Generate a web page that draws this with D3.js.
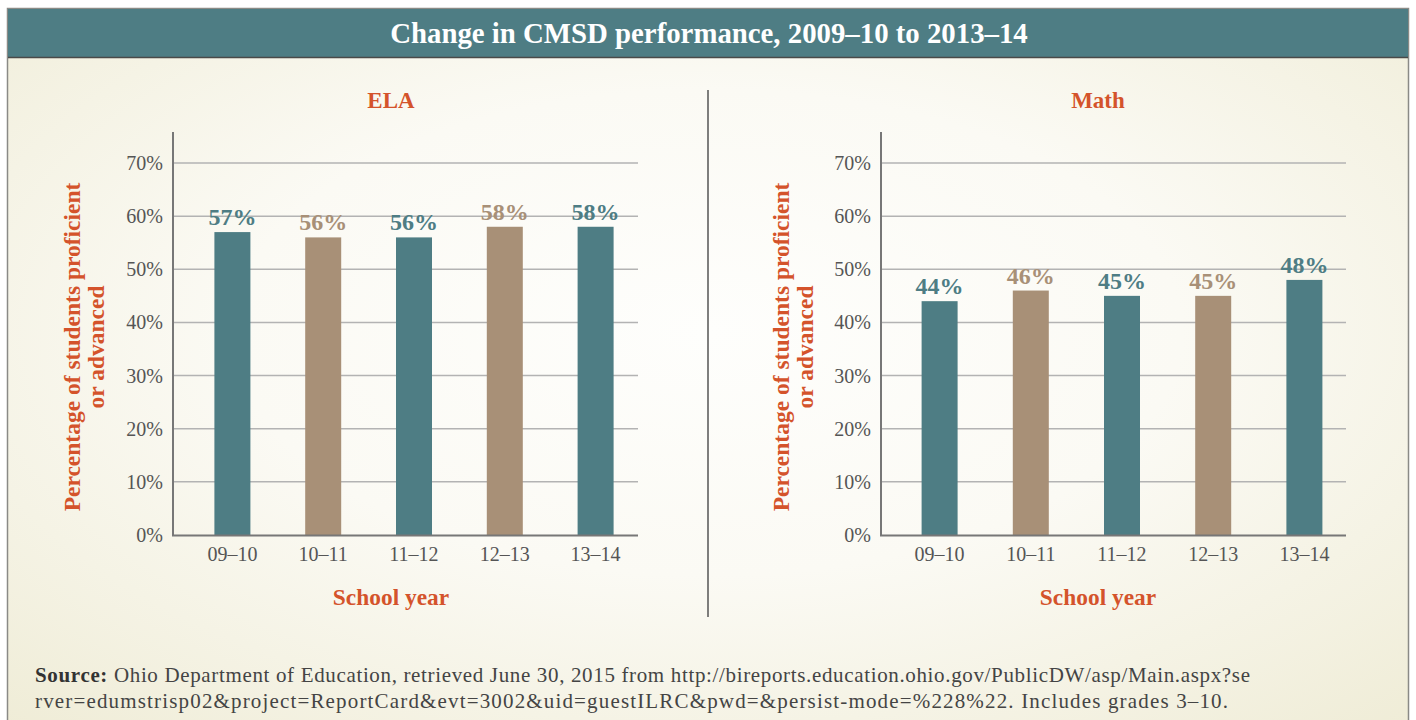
<!DOCTYPE html>
<html><head><meta charset="utf-8">
<script src="https://cdn.jsdelivr.net/npm/d3@7"></script>
<style>body{margin:0;background:#fff;}svg{display:block;}</style>
</head><body>
<svg id="c" width="1416" height="720"></svg>
<script>
const years = ["09–10","10–11","11–12","12–13","13–14"];
const elaValues = [57,56,56,58,58];
const mathValues = [44,46,45,45,48];
const barColors = ["#4e7d84","#a89077","#4e7d84","#a89077","#4e7d84"];
const yTicks = [0,10,20,30,40,50,60,70];
const titleText = "Change in CMSD performance, 2009–10 to 2013–14";
const panelTitles = ["ELA","Math"];
const yAxisTitle = ["Percentage of students proficient","or advanced"];
const xAxisTitle = "School year";
const sourceLines = ["Ohio Department of Education, retrieved June 30, 2015 from http://bireports.education.ohio.gov/PublicDW/asp/Main.aspx?se",
  "rver=edumstrisp02&project=ReportCard&evt=3002&uid=guestILRC&pwd=&persist-mode=%228%22. Includes grades 3–10."];

const svg = d3.select("#c");
const serif = "'Liberation Serif','DejaVu Serif',serif";
const accent = "#d4532b";

const defs = svg.append("defs");
const rg = defs.append("radialGradient").attr("id","bg").attr("cx","50%").attr("cy","45%").attr("r","75%");
rg.append("stop").attr("offset","0%").attr("stop-color","#fefefc");
rg.append("stop").attr("offset","45%").attr("stop-color","#fbfaf4");
rg.append("stop").attr("offset","100%").attr("stop-color","#efecd6");

// frame
svg.append("rect").attr("x",7.5).attr("y",8.5).attr("width",1401).attr("height",720).attr("fill","url(#bg)").attr("stroke","#8a8a86").attr("stroke-width",1.5);
svg.append("rect").attr("x",8).attr("y",9).attr("width",1400).attr("height",48).attr("fill","#4e7d84");
svg.append("line").attr("x1",8).attr("x2",1408).attr("y1",57.5).attr("y2",57.5).attr("stroke","#4a4a48").attr("stroke-width",1.5);
svg.append("text").attr("x",709).attr("y",43).attr("text-anchor","middle").attr("fill","#fff")
  .attr("font-family",serif).attr("font-weight","bold").attr("font-size",28.8).text(titleText);

// divider
svg.append("line").attr("x1",708).attr("x2",708).attr("y1",90).attr("y2",617).attr("stroke","#555").attr("stroke-width",1.5);

const y = d3.scaleLinear().domain([0,70]).range([535,163]);

function panel(x0, values, title, rangeStart, rangeEnd, axisEnd, titleX, yTitleX){
  const g = svg.append("g");
  const x = d3.scaleBand().domain(years).range([rangeStart, rangeEnd]).paddingInner(0.6).paddingOuter(0.3);
  g.selectAll(".grid").data(yTicks.filter(d=>d>0)).join("line")
    .attr("x1",x0).attr("x2",axisEnd).attr("y1",d=>y(d)).attr("y2",d=>y(d))
    .attr("stroke","#b3b3b3").attr("stroke-width",1.5);
  g.selectAll(".yt").data(yTicks).join("text")
    .attr("x",x0-10).attr("y",d=>y(d)+7).attr("text-anchor","end")
    .attr("font-family",serif).attr("font-size",20).attr("fill","#555").text(d=>d+"%");
  const bw = 36;
  g.selectAll(".bar").data(values).join("rect")
    .attr("x",(d,i)=>x(years[i])+x.bandwidth()/2-bw/2).attr("width",bw)
    .attr("y",d=>y(d)).attr("height",d=>y(0)-y(d)).attr("fill",(d,i)=>barColors[i]);
  g.selectAll(".vl").data(values).join("text")
    .attr("x",(d,i)=>x(years[i])+x.bandwidth()/2).attr("y",d=>y(d)-7)
    .attr("text-anchor","middle").attr("font-family",serif).attr("font-weight","bold")
    .attr("font-size",24).attr("fill",(d,i)=>barColors[i]).text(d=>d+"%");
  g.append("line").attr("x1",x0).attr("x2",x0).attr("y1",132).attr("y2",536).attr("stroke","#777").attr("stroke-width",2);
  g.append("line").attr("x1",x0-1).attr("x2",axisEnd).attr("y1",535.5).attr("y2",535.5).attr("stroke","#777").attr("stroke-width",2);
  g.selectAll(".xt").data(years).join("text")
    .attr("x",d=>x(d)+x.bandwidth()/2).attr("y",561).attr("text-anchor","middle")
    .attr("font-family",serif).attr("font-size",20).attr("fill","#555").text(d=>d);
  g.append("text").attr("x",titleX).attr("y",108).attr("text-anchor","middle")
    .attr("font-family",serif).attr("font-weight","bold").attr("font-size",23).attr("fill",accent).text(title);
  g.append("text").attr("x",titleX).attr("y",605).attr("text-anchor","middle")
    .attr("font-family",serif).attr("font-weight","bold").attr("font-size",23.4).attr("fill",accent).text(xAxisTitle);
  const yt = g.append("text").attr("transform",`translate(${yTitleX},347) rotate(-90)`)
    .attr("text-anchor","middle").attr("font-family",serif).attr("font-weight","bold").attr("font-size",23.5).attr("fill",accent);
  yAxisTitle.forEach((t,i)=>yt.append("tspan").attr("x",0).attr("dy",i===0?0:24).text(t));
}

panel(173, elaValues, panelTitles[0], 187, 641, 638, 391, 80);
panel(881, mathValues, panelTitles[1], 894, 1350, 1346, 1098, 789);

// source
const src = svg.append("g").attr("font-family",serif).attr("font-size",21).attr("fill","#444");
const l1 = src.append("text").attr("x",35).attr("y",682).attr("textLength",1215).attr("lengthAdjust","spacing");
l1.append("tspan").attr("font-weight","bold").attr("fill","#333").text("Source:");
l1.append("tspan").text(" " + sourceLines[0]);
src.append("text").attr("x",35).attr("y",708).attr("textLength",1193).attr("lengthAdjust","spacing").text(sourceLines[1]);
</script>
</body></html>
